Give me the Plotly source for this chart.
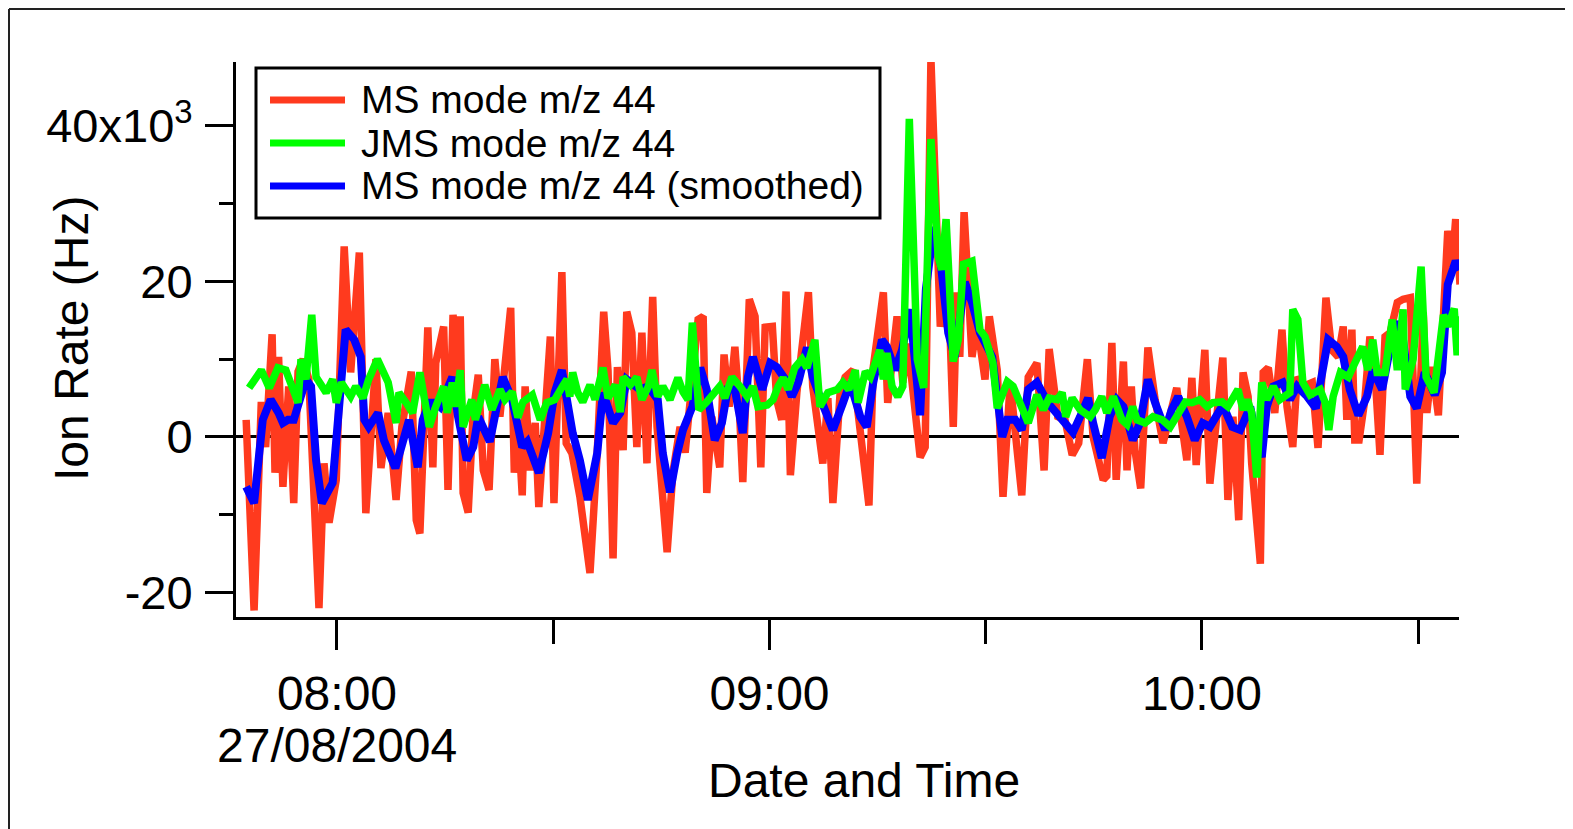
import pandas as pd
import plotly.graph_objects as go

# ---------------- data (time in minutes after 08:00 on 27/08/2004, rate in 10^3 Hz) ----------------
ms_minutes = [-12.6, -11.5, -10.5, -9.9, -9.0, -8.6, -8.1, -7.5, -6.7, -6.0,
              -5.4, -4.7, -3.9, -2.5, -1.8, -1.1, -0.1, 1.0, 1.9, 3.1,
              4.0, 4.7, 5.4, 6.1, 7.1, 8.2, 9.0, 10.3, 11.0, 11.5,
              12.6, 13.3, 13.7, 14.8, 15.4, 16.1, 16.7, 17.1, 17.5, 18.2,
              18.9, 19.6, 20.3, 21.1, 21.9, 22.6, 23.3, 24.1, 24.6, 25.1,
              25.7, 26.1, 26.8, 27.5, 28.0, 28.9, 29.6, 30.1, 30.7, 31.2,
              31.8, 32.6, 33.7, 35.1, 36.1, 37.0, 37.6, 38.3, 38.9, 39.7,
              40.2, 40.9, 41.6, 42.3, 43.0, 43.8, 44.4, 45.8, 46.6, 47.6,
              48.3, 49.4, 50.1, 50.8, 51.3, 52.0, 53.1, 53.7, 54.4, 55.2,
              55.8, 56.3, 57.2, 58.0, 58.8, 59.4, 60.4, 61.0, 61.7, 62.3,
              62.9, 63.8, 65.4, 66.0, 67.4, 68.1, 68.8, 69.8, 70.5, 71.6,
              72.8, 73.8, 74.4, 75.8, 76.4, 77.7, 78.5, 79.2, 80.9, 81.6,
              82.4, 83.7, 84.8, 85.5, 86.0, 86.4, 87.0, 88.1, 88.8, 89.9,
              90.5, 91.6, 92.4, 93.4, 95.0, 95.9, 97.1, 98.1, 98.8, 100.0,
              101.0, 102.0, 102.9, 104.1, 104.9, 106.3, 106.8, 107.5, 108.1, 109.1,
              109.6, 110.2, 110.7, 111.5, 112.5, 113.5, 114.6, 115.8, 116.5, 117.9,
              118.6, 119.2, 119.7, 120.4, 121.1, 122.1, 122.9, 123.6, 124.3, 125.1,
              125.7, 126.4, 126.9, 128.1, 128.5, 129.2, 130.1, 131.1, 131.8, 132.6,
              133.2, 134.0, 135.3, 136.1, 137.2, 138.0, 138.9, 139.6, 140.1, 140.8,
              141.2, 141.8, 142.6, 143.3, 144.0, 144.7, 145.4, 146.1, 147.1, 147.9,
              148.9, 149.8, 150.7, 151.2, 151.9, 152.8, 154.1, 154.7, 155.2, 155.8]
ms_rate = [2.2, -22.3, 4.5, -1.3, 13.2, -4.6, 10.3, -6.4, 6.5, -8.5,
           8.4, 10.0, 7.4, -22.0, -3.4, -11.0, -5.5, 24.5, 8.3, 23.7,
           -9.8, 2.2, 10.0, -4.0, 3.1, -8.1, 1.3, 8.4, -10.7, -12.4,
           14.1, -3.9, 9.5, 14.2, -6.8, 15.7, 7.7, 15.5, -7.2, -9.7,
           3.1, 8.0, -4.3, -6.8, 10.0, 2.6, 9.7, 16.6, -4.6, 2.2,
           -7.5, 6.5, -4.3, 1.8, -9.0, 2.2, 12.9, -8.5, 6.5, 21.2,
           -0.8, -2.1, -7.7, -17.5, -2.1, 16.1, 8.6, -15.6, 9.0, -1.7,
           16.1, 13.4, -1.3, 13.4, -3.4, 18.0, 1.3, -14.8, -4.6, 1.3,
           -2.0, 10.0, 15.1, 15.5, -7.2, 2.6, -3.9, 10.6, 3.9, 11.6,
           4.0, -5.8, 17.7, 15.5, -3.9, 14.1, 14.2, 4.8, 2.2, 18.7,
           -4.9, 5.7, 18.6, 6.5, -3.4, 5.0, -8.5, 5.7, 7.7, 8.6,
           -1.7, -8.8, 9.0, 18.6, 4.4, 15.5, 7.0, 12.0, -2.6, -1.3,
           48.6, 14.2, 19.9, 1.3, 18.6, 10.3, 28.9, 10.3, 14.7, 7.4,
           15.5, 8.6, -7.7, 7.0, -7.5, 7.7, 9.5, -4.3, 11.3, 2.6,
           2.2, -2.3, -0.8, 10.0, 0.0, -5.5, -5.0, 12.1, -5.5, 9.7,
           -4.3, 6.5, -1.7, -6.6, 11.5, 4.8, -0.8, 3.5, 6.3, -3.0,
           7.6, -3.6, 1.8, 11.2, -6.0, 2.6, 10.2, -8.1, 2.6, -10.7,
           8.3, 5.2, -3.4, -16.3, 8.3, 8.9, 3.1, 13.8, 3.9, -1.3,
           7.7, 6.5, 7.0, -1.4, 17.9, 11.2, 10.3, 14.2, 2.2, 13.8,
           -0.4, -0.4, 4.8, 12.9, 8.3, -2.3, 12.9, 13.4, 17.3, 17.7,
           17.9, -6.0, 16.0, 3.1, 9.0, 2.8, 26.5, 21.9, 28.0, 19.6]

jms_minutes = [-12.2, -10.5, -9.4, -8.2, -7.1, -6.4, -5.4, -5.0, -4.3, -3.5,
               -2.9, -1.5, -0.6, -0.1, 0.6, 1.9, 2.6, 3.6, 4.4, 5.6,
               6.4, 7.1, 8.2, 8.6, 9.6, 10.5, 11.5, 12.8, 13.7, 14.8,
               15.3, 16.0, 16.4, 17.1, 17.5, 18.7, 19.2, 20.5, 21.5, 22.6,
               23.3, 24.3, 25.1, 25.8, 27.1, 28.2, 29.1, 30.2, 31.4, 31.9,
               32.3, 32.7, 33.4, 34.1, 35.1, 35.8, 36.9, 37.6, 38.6, 39.3,
               39.7, 40.7, 41.6, 42.3, 43.2, 43.7, 44.5, 45.2, 46.2, 47.3,
               48.0, 48.7, 49.3, 50.2, 51.3, 53.1, 53.8, 54.8, 55.9, 56.9,
               57.7, 58.4, 59.7, 60.5, 61.2, 61.9, 62.6, 63.5, 64.5, 65.2,
               66.3, 67.0, 68.1, 69.4, 70.2, 71.0, 71.9, 72.3, 73.3, 74.0,
               75.3, 75.8, 76.3, 77.0, 77.8, 78.5, 79.4, 80.5, 81.4, 82.4,
               83.4, 83.9, 84.5, 85.5, 86.2, 86.9, 88.1, 89.2, 89.9, 91.0,
               91.6, 93.0, 93.8, 94.8, 95.9, 97.1, 98.0, 98.8, 99.9, 100.6,
               101.1, 102.0, 103.1, 104.5, 105.2, 106.1, 106.8, 107.7, 108.9, 109.6,
               110.4, 111.0, 112.1, 113.2, 114.5, 115.6, 116.5, 117.7, 118.6, 119.7,
               120.7, 121.5, 122.8, 123.6, 125.0, 125.7, 126.3, 126.9, 127.6, 128.3,
               129.0, 129.9, 130.8, 132.2, 132.6, 133.3, 134.0, 135.0, 136.4, 137.1,
               137.6, 138.2, 139.2, 140.3, 141.2, 142.3, 143.0, 143.7, 144.3, 145.4,
               146.4, 147.1, 147.9, 148.2, 149.3, 150.4, 151.1, 152.2, 153.5, 154.1,
               155.0, 155.4, 155.8]
jms_rate = [6.3, 8.6, 6.3, 8.9, 8.6, 6.7, 4.4, 10.0, 7.4, 15.7,
            7.7, 5.7, 7.4, 4.4, 7.0, 5.2, 6.5, 5.0, 7.4, 10.0,
            8.3, 7.0, 1.8, 5.7, 4.4, 3.1, 8.3, 1.3, 3.9, 6.5,
            3.1, 7.0, 3.9, 8.6, 1.3, 4.8, 2.2, 6.7, 3.5, 6.1,
            4.8, 5.8, 2.5, 4.5, 5.4, 2.2, 4.4, 4.8, 6.7, 7.4,
            5.2, 8.3, 5.7, 4.5, 6.7, 4.8, 8.9, 5.0, 6.7, 3.2,
            7.7, 6.7, 7.7, 4.8, 6.5, 8.6, 5.2, 6.5, 4.8, 7.6,
            5.8, 4.8, 14.7, 3.5, 4.5, 6.5, 5.0, 7.7, 6.5, 5.2,
            6.5, 3.9, 4.1, 4.8, 6.5, 7.6, 6.1, 8.9, 10.0, 8.9,
            12.5, 3.9, 5.7, 6.1, 7.0, 6.1, 8.6, 4.4, 8.4, 7.7,
            11.2, 7.4, 10.8, 6.5, 5.2, 6.5, 40.9, 10.0, 6.3, 38.3,
            23.2, 21.5, 28.0, 9.7, 12.5, 22.2, 22.6, 13.8, 12.9, 9.5,
            3.7, 7.1, 6.5, 4.4, 1.8, 5.4, 3.5, 5.0, 4.8, 5.7,
            2.6, 5.0, 3.5, 2.6, 3.5, 5.2, 3.1, 5.2, 2.2, 1.6,
            3.9, 2.2, 1.8, 2.6, 2.2, 1.3, 2.5, 4.5, 4.4, 4.8,
            3.9, 4.4, 4.5, 3.9, 6.1, 3.5, 4.8, 3.1, -5.2, 7.0,
            4.8, 6.5, 4.8, 5.7, 16.4, 15.1, 7.0, 5.4, 6.1, 4.4,
            0.9, 5.2, 8.3, 7.7, 9.5, 11.6, 8.6, 12.5, 8.3, 8.3,
            15.1, 8.6, 16.4, 6.1, 10.0, 21.9, 7.7, 5.7, 15.7, 14.2,
            16.5, 10.5, 15.5]

smooth_minutes = [-12.6, -11.5, -10.3, -9.2, -8.1, -7.5, -6.8, -6.0, -4.3, -3.6,
                  -2.9, -2.1, -0.6, 0.3, 1.2, 2.4, 3.3, 3.8, 4.4, 5.7,
                  6.5, 8.1, 9.2, 10.0, 11.2, 11.9, 12.8, 13.7, 14.3, 16.0,
                  16.8, 18.0, 18.9, 19.6, 21.2, 22.2, 23.0, 24.3, 25.7, 26.4,
                  28.0, 29.3, 30.2, 31.2, 32.1, 32.7, 33.7, 34.8, 36.1, 36.9,
                  38.3, 39.3, 40.2, 42.0, 43.2, 44.5, 45.2, 46.2, 47.2, 48.0,
                  49.3, 50.4, 51.3, 52.0, 52.4, 53.4, 54.2, 55.2, 56.3, 57.0,
                  57.7, 59.0, 60.1, 61.0, 62.2, 63.1, 64.0, 65.2, 66.0, 67.3,
                  68.8, 70.2, 71.2, 72.6, 73.5, 74.4, 75.6, 76.3, 77.4, 78.4,
                  79.5, 80.9, 81.7, 82.8, 83.8, 84.8, 85.7, 87.1, 88.1, 89.2,
                  90.9, 92.3, 93.0, 94.1, 95.0, 95.9, 97.1, 98.6, 100.7, 102.1,
                  103.1, 104.2, 104.9, 106.1, 107.2, 108.2, 109.1, 110.4, 111.4, 112.5,
                  113.5, 114.9, 115.8, 116.7, 117.9, 119.0, 120.1, 121.1, 122.9, 124.2,
                  125.3, 126.7, 127.4, 128.3, 129.0, 129.9, 131.2, 132.2, 133.2, 134.6,
                  135.8, 137.5, 138.7, 139.6, 140.5, 141.7, 142.9, 143.7, 145.0, 145.8,
                  146.8, 147.9, 148.9, 149.8, 150.9, 152.3, 153.3, 154.1, 155.2, 155.8]
smooth_rate = [-6.4, -8.5, 2.2, 4.8, 3.1, 1.8, 2.2, 2.2, 7.4, 6.5,
               -3.0, -8.5, -5.9, 3.9, 13.8, 12.5, 10.3, 2.2, 1.3, 3.1,
               -0.4, -4.0, -0.4, 2.2, -3.9, 2.2, 4.4, 4.4, 3.9, 7.7,
               2.6, -3.0, -1.3, 2.6, -0.6, 3.5, 7.7, 4.8, -1.3, -0.6,
               -4.6, 0.5, 5.7, 8.6, 3.9, 0.5, -3.0, -8.1, -2.1, 5.7,
               1.8, 3.1, 7.4, 6.1, 6.5, 4.8, -2.1, -7.1, -2.1, 0.9,
               3.9, 8.9, 6.1, 1.3, -0.4, 1.8, 6.1, 6.1, 0.5, 7.7,
               10.3, 6.1, 9.5, 9.0, 7.4, 5.2, 7.0, 11.5, 7.7, 4.4,
               0.9, 4.4, 7.0, 2.6, 1.3, 7.0, 12.5, 11.6, 8.6, 11.2,
               16.4, 2.8, 19.0, 27.0, 22.0, 13.4, 10.3, 19.9, 17.3, 13.4,
               10.3, 0.0, 2.2, 2.2, 0.9, 6.1, 7.0, 4.4, 1.9, 0.6,
               2.6, 5.0, 1.8, -2.7, 2.6, 4.8, 3.9, -0.4, 1.8, 7.4,
               4.4, 0.9, 3.5, 5.2, 2.6, -0.4, 1.8, 1.3, 4.1, 1.3,
               0.9, 3.9, 0.5, -2.6, 3.9, 6.5, 7.0, 4.8, 6.5, 5.2,
               3.7, 12.5, 11.6, 10.3, 6.1, 2.8, 5.2, 8.6, 6.1, 10.3,
               14.8, 12.5, 5.2, 3.7, 8.3, 5.4, 8.3, 19.6, 22.6, 21.5]

series_names = ["MS mode m/z 44", "JMS mode m/z 44", "MS mode m/z 44 (smoothed)"]
series_colors = ["#FF3A1E", "#00FF00", "#0000FF"]

major_ticks = ["2004-08-27 08:00", "2004-08-27 09:00", "2004-08-27 10:00"]
major_tick_text = ["08:00", "09:00", "10:00"]
minor_ticks = ["2004-08-27 08:30", "2004-08-27 09:30", "2004-08-27 10:30"]
date_label = "27/08/2004"
y_tick_vals = [-20, 0, 20, 40]
y_tick_text = ["-20", "0", "20", "40x10<sup>3</sup>"]
y_minor_vals = [-10, 10, 30]

# ---------------- figure ----------------
BASE = pd.Timestamp("2004-08-27 08:00:00")


def to_time(mins):
    return [BASE + pd.Timedelta(minutes=m) for m in mins]


FONT = "Liberation Sans, Arial, Helvetica, sans-serif"
PAGE_OFF = 8  # default body margin of the html page
W, H = 1565, 821
# plot area in page pixels: x 236..1459, y 62..617
ML, MT = 236 - PAGE_OFF, 62 - PAGE_OFF
PW, PH = 1459 - 236, 617 - 62
MR, MB = W - ML - PW, H - MT - PH


def px(x):  # page pixel -> paper x
    return (x - PAGE_OFF - ML) / PW


def py(y):  # page pixel -> paper y
    return 1 - (y - PAGE_OFF - MT) / PH


fig = go.Figure()
# draw order: red, blue, green (green on top)
fig.add_trace(go.Scatter(x=to_time(ms_minutes), y=ms_rate, mode="lines", name=series_names[0],
                         line=dict(color=series_colors[0], width=7.5), showlegend=False))
fig.add_trace(go.Scatter(x=to_time(smooth_minutes), y=smooth_rate, mode="lines", name=series_names[2],
                         line=dict(color=series_colors[2], width=8), showlegend=False))
fig.add_trace(go.Scatter(x=to_time(jms_minutes), y=jms_rate, mode="lines", name=series_names[1],
                         line=dict(color=series_colors[1], width=7.5), showlegend=False))

axis_font = dict(family=FONT, size=48, color="black")
ytick_font = dict(family=FONT, size=47, color="black")

fig.update_xaxes(
    type="date",
    range=[BASE + pd.Timedelta(minutes=-14.01), BASE + pd.Timedelta(minutes=155.66)],
    showline=True, linecolor="black", linewidth=3, mirror=False,
    showgrid=False, zeroline=False,
    ticks="outside", ticklen=30, tickwidth=3, tickcolor="black",
    tickmode="array", tickvals=major_ticks, ticktext=major_tick_text,
    tickfont=axis_font, ticklabelstandoff=2,
    minor=dict(tickmode="array", tickvals=minor_ticks, ticks="outside",
               ticklen=24, tickwidth=3, tickcolor="black", showgrid=False),
)
fig.update_yaxes(
    range=[-23.14, 48.2],
    showline=True, linecolor="black", linewidth=3, mirror=False,
    showgrid=False, zeroline=True, zerolinecolor="black", zerolinewidth=3,
    ticks="outside", ticklen=28, tickwidth=3, tickcolor="black",
    tickmode="array", tickvals=y_tick_vals, ticktext=y_tick_text,
    tickfont=ytick_font, ticklabelstandoff=3,
    minor=dict(tickmode="array", tickvals=y_minor_vals, ticks="outside",
               ticklen=14, tickwidth=3, tickcolor="black", showgrid=False),
)

shapes = []
# figure frame (left and top edges visible)
shapes.append(dict(type="line", xref="paper", yref="paper", x0=px(9), x1=px(9), y0=py(840), y1=py(9),
                   line=dict(color="#222222", width=2), layer="above"))
shapes.append(dict(type="line", xref="paper", yref="paper", x0=px(9), x1=px(1590), y0=py(9), y1=py(9),
                   line=dict(color="#222222", width=2), layer="above"))
# legend box
shapes.append(dict(type="rect", xref="paper", yref="paper", x0=px(256), x1=px(880), y0=py(218), y1=py(68),
                   line=dict(color="black", width=3), fillcolor="white", layer="above"))
legend_rows_y = [100, 143, 186]
legend_order = [0, 1, 2]
annotations = []
for row_y, idx in zip(legend_rows_y, legend_order):
    shapes.append(dict(type="line", xref="paper", yref="paper", x0=px(270), x1=px(345),
                       y0=py(row_y), y1=py(row_y),
                       line=dict(color=series_colors[idx], width=7), layer="above"))
    annotations.append(dict(xref="paper", yref="paper", x=px(359), y=py(row_y), text=series_names[idx],
                            showarrow=False, xanchor="left", yanchor="middle",
                            font=dict(family=FONT, size=39, color="black")))

# date line under the first tick label
annotations.append(dict(xref="x", yref="paper", x=major_ticks[0], y=py(745), text=date_label,
                        showarrow=False, xanchor="center", yanchor="middle", font=axis_font))
# axis titles
annotations.append(dict(xref="paper", yref="paper", x=px(864), y=py(780), text="Date and Time",
                        showarrow=False, xanchor="center", yanchor="middle", font=axis_font))
annotations.append(dict(xref="paper", yref="paper", x=px(71), y=py(339), text="Ion Rate (Hz)",
                        textangle=-90, showarrow=False, xanchor="center", yanchor="middle", font=axis_font))

fig.update_layout(
    width=W, height=H,
    margin=dict(l=ML, r=MR, t=MT, b=MB, autoexpand=False),
    paper_bgcolor="white", plot_bgcolor="white",
    font=dict(family=FONT, color="black"),
    showlegend=False,
    shapes=shapes, annotations=annotations,
)

fig.write_html("out.html")
